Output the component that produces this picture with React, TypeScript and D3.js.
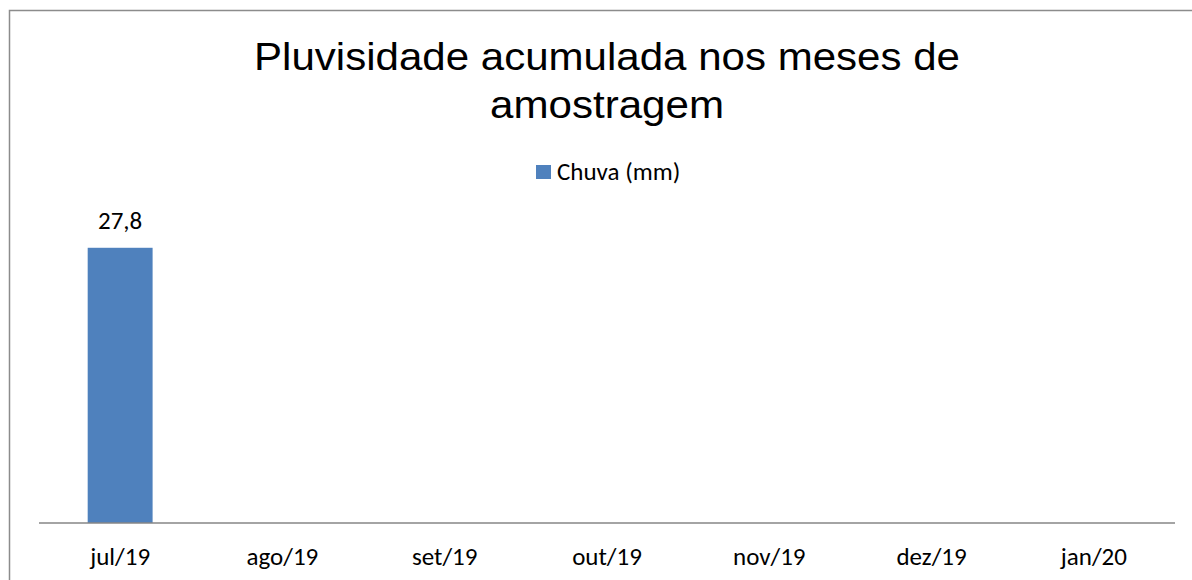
import React from "react";
import * as d3 from "d3";

const months = ["jul/19", "ago/19", "set/19", "out/19", "nov/19", "dez/19", "jan/20"];
const chuva = [27.8, 0, 0, 0, 0, 0, 0];
const titleLines = ["Pluvisidade acumulada nos meses de", "amostragem"];
const titleWidths = [706, 234];
const seriesName = "Chuva (mm)";

const W = 1192;
const H = 580;
const bodyFont = "Carlito, Calibri, Lato, 'Open Sans', sans-serif";

export default function App() {
  // área do gráfico
  const left = 39;
  const right = 1175;
  const baseY = 523;

  const x = d3.scaleBand().domain(months).range([left, right]).paddingInner(0.6).paddingOuter(0.3);
  const y = d3.scaleLinear().domain([0, 30]).range([baseY, 226]);

  const fmt = (v: number) => d3.format(".1f")(v).replace(".", ",");

  return (
    <svg width={W} height={H} style={{ position: "absolute", left: 0, top: 0, background: "#fff" }}>
      <rect x={9.5} y={10.5} width={1200} height={600} fill="#fff" stroke="#8c8c8c" strokeWidth={1.5} />

      {titleLines.map((t, i) => (
        <text key={i} x={607} y={70 + i * 48} textAnchor="middle" textLength={titleWidths[i]}
          lengthAdjust="spacingAndGlyphs"
          fontFamily="'Liberation Sans', Arial, sans-serif" fontSize={38} fill="#000">{t}</text>
      ))}

      {/* legenda */}
      <rect x={536} y={165} width={15} height={14} fill="#4f81bd" />
      <text x={557} y={180} fontFamily={bodyFont} fontSize={25} fill="#000">{seriesName}</text>

      {chuva.map((v, i) => (
        <rect key={months[i]} x={x(months[i])} y={y(v)} width={x.bandwidth()} height={baseY - y(v)} fill="#4f81bd" />
      ))}
      {chuva.map((v, i) => v > 0 && (
        <text key={"l" + i} x={(x(months[i]) as number) + x.bandwidth() / 2} y={229}
          textAnchor="middle" fontFamily={bodyFont} fontSize={25} fill="#000">{fmt(v)}</text>
      ))}

      <line x1={left} x2={right} y1={baseY} y2={baseY} stroke="#868686" strokeWidth={1.5} />
      {months.map((m) => (
        <text key={m} x={(x(m) as number) + x.bandwidth() / 2} y={565} textAnchor="middle"
          fontFamily={bodyFont} fontSize={25} fill="#000">{m}</text>
      ))}
    </svg>
  );
}
